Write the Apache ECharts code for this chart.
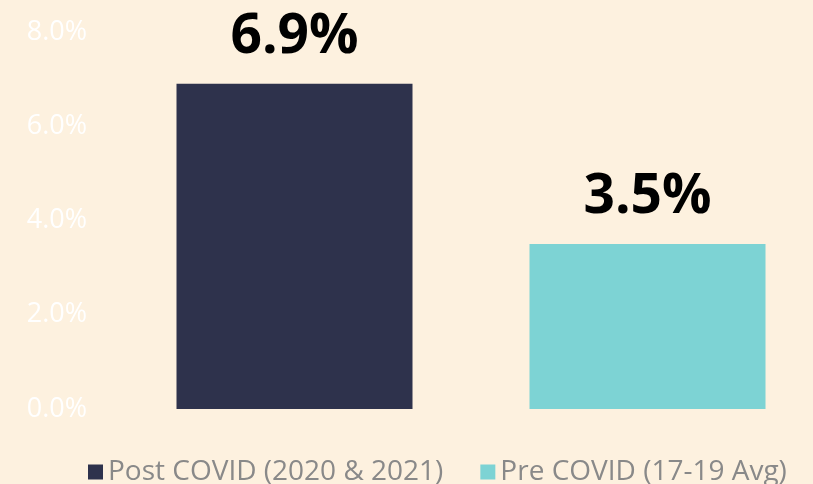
<!DOCTYPE html>
<html><head><meta charset="utf-8">
<script src="https://cdn.jsdelivr.net/npm/echarts@6/dist/echarts.min.js"></script>
<style>html,body{margin:0;padding:0;background:#FDF1DF;}#c{width:813px;height:484px;}</style>
</head><body><div id="c"></div>
<script>
const categories = ['Post COVID (2020 & 2021)', 'Pre COVID (17-19 Avg)'];
const values = [6.9, 3.5];
const colors = ['#2E324C', '#7DD3D4'];
const yTicks = [0, 2, 4, 6, 8];

const series = categories.map((name, i) => ({
  name: name,
  type: 'bar',
  stack: 'all',
  barWidth: 236,
  itemStyle: { color: colors[i] },
  label: {
    show: true, position: 'top', distance: 19,
    formatter: p => p.value.toFixed(1) + '%',
    fontFamily: 'Open Sans', fontWeight: 'bold', fontSize: 55, lineHeight: 55, color: '#000'
  },
  data: values.map((v, j) => j === i ? v : '-')
}));

const chart = echarts.init(document.getElementById('c'));
chart.setOption({
  backgroundColor: '#FDF1DF',
  animation: false,
  grid: { left: 118, width: 706, top: 32, bottom: 75, outerBoundsMode: 'none', containLabel: false },
  legend: {
    data: categories, left: 83, top: 453, itemWidth: 15, itemHeight: 15, itemGap: 37,
    icon: 'rect',
    textStyle: { fontFamily: 'Open Sans', fontSize: 28, color: '#898989' }
  },
  xAxis: {
    type: 'category', data: categories,
    axisLine: { show: false }, axisTick: { show: false }, axisLabel: { show: false }
  },
  yAxis: {
    type: 'value', min: yTicks[0], max: yTicks[yTicks.length - 1], interval: 2,
    splitLine: { show: false }, axisLine: { show: false }, axisTick: { show: false },
    axisLabel: { margin: 31, formatter: v => v.toFixed(1) + '%', fontFamily: 'Open Sans', fontSize: 27, color: '#FFFFFF' }
  },
  series: series
});
</script></body></html>
